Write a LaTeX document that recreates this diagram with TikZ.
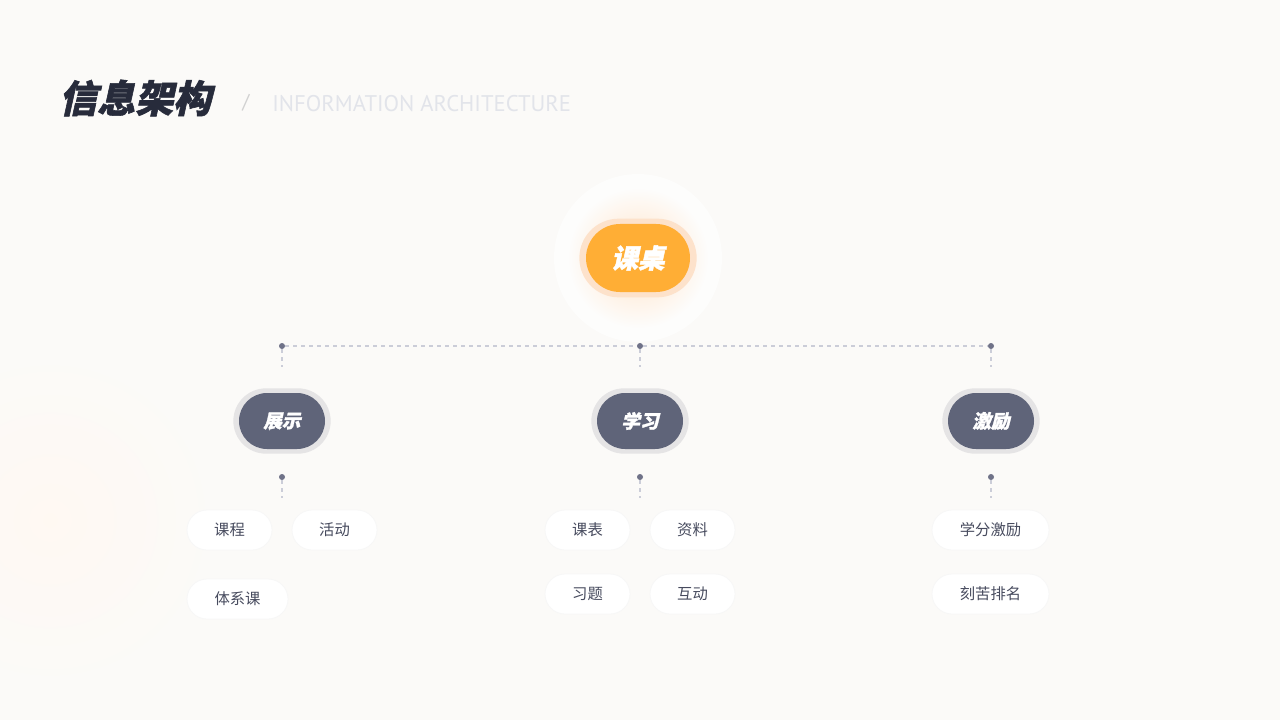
\documentclass[tikz,border=0pt]{standalone}
\usepackage{fontspec}
\setmainfont{Noto Sans CJK SC}
\newfontfamily\cjk{Noto Sans CJK SC}
\newfontfamily\cjkbi{Noto Sans CJK SC}[FakeSlant=0.22,BoldFeatures={FakeSlant=0.22,FakeBold=1.5}]
\newfontfamily\enfont{PT Sans}
\definecolor{bg}{HTML}{FBFAF8}
\definecolor{orangeA}{HTML}{FFAE35}
\definecolor{peach}{HTML}{FDE2CB}
\definecolor{slate}{HTML}{5F6479}
\definecolor{ringgray}{HTML}{E5E4E5}
\definecolor{dotc}{HTML}{6F7288}
\definecolor{dashc}{HTML}{CBCDD8}
\definecolor{leaftext}{HTML}{474B5E}
\definecolor{titlec}{HTML}{272B3B}
\definecolor{enc}{HTML}{E2E4EA}
\tikzset{
  dotn/.style={circle,fill=dotc,inner sep=0pt,minimum size=4.5pt},
  conn/.style={draw=dashc,line width=0.8pt,dash pattern=on 3pt off 3pt},
  toppill/.style={rectangle,rounded corners=25.5pt,minimum width=78pt,minimum height=51pt,fill=orangeA,text=white,font=\cjkbi\bfseries\fontsize{20}{22}\selectfont,inner sep=0pt},
  topring/.style={rectangle,rounded corners=29.5pt,minimum width=88pt,minimum height=59pt,fill=peach,inner sep=0pt},
  midpill/.style={rectangle,rounded corners=21pt,minimum width=64.5pt,minimum height=42pt,fill=slate,text=white,font=\cjkbi\bfseries\fontsize{14}{16}\selectfont,inner sep=0pt},
  midring/.style={rectangle,rounded corners=24.5pt,minimum width=73pt,minimum height=49pt,fill=ringgray,inner sep=0pt},
  leaf/.style={rectangle,rounded corners=15pt,minimum width=63.75pt,minimum height=30pt,fill=white,draw=black!3,line width=0.6pt,text=leaftext,font=\cjk\fontsize{11.5}{13}\selectfont,inner sep=0pt},
}
\begin{document}
\begin{tikzpicture}[x=0.75pt,y=-0.75pt]
\useasboundingbox (0,0) rectangle (1280,720);
% background
\fill[bg] (0,0) rectangle (1280,720);
\shade[inner color=orange!5,outer color=bg] (50,520) circle (170);
% title
\node[anchor=west,text=titlec,font=\cjkbi\bfseries\fontsize{28.5}{31}\selectfont,inner sep=0pt] (ttl) at (59,98) {信息架构};
\node[text=black!18,font=\enfont\fontsize{15}{17}\selectfont,inner sep=0pt] (slash) at (246,103) {/};
\node[anchor=west,text=enc,font=\enfont\fontsize{17}{20}\selectfont,inner sep=0pt] (en) at (272,104) {INFORMATION ARCHITECTURE};
% center
\fill[white!55!bg] (638,258) circle (84);
\shade[inner color=orange!22,outer color=white!55!bg] (638,258) circle (70);
\node[topring] (cring) at (638,258) {};
\node[toppill] (root) at (638,258) {课桌};
% dots
\node[dotn] (d1) at (282,346) {};
\node[dotn] (d2) at (640,346) {};
\node[dotn] (d3) at (991,346) {};
\draw[conn] (d1) -- (d2);
\draw[conn] (d2) -- (d3);
\coordinate (v1) at (282,367);
\coordinate (v2) at (640,367);
\coordinate (v3) at (991,367);
\draw[conn] (d1) -- (v1);
\draw[conn] (d2) -- (v2);
\draw[conn] (d3) -- (v3);
% mid nodes
\node[midring] (r1) at (282,421) {};
\node[midpill] (m1) at (282,421) {展示};
\node[midring] (r2) at (640,421) {};
\node[midpill] (m2) at (640,421) {学习};
\node[midring] (r3) at (991,421) {};
\node[midpill] (m3) at (991,421) {激励};
\node[dotn] (e1) at (282,477) {};
\node[dotn] (e2) at (640,477) {};
\node[dotn] (e3) at (991,477) {};
\coordinate (w1) at (282,498);
\coordinate (w2) at (640,498);
\coordinate (w3) at (991,498);
\draw[conn] (e1) -- (w1);
\draw[conn] (e2) -- (w2);
\draw[conn] (e3) -- (w3);
% leaves
\node[leaf] (l1) at (229.5,530) {课程};
\node[leaf] (l2) at (334.5,530) {活动};
\node[leaf,minimum width=75.75pt] (l3) at (237.5,599) {体系课};
\node[leaf] (l4) at (587.5,530) {课表};
\node[leaf] (l5) at (692.5,530) {资料};
\node[leaf] (l6) at (587.5,594) {习题};
\node[leaf] (l7) at (692.5,594) {互动};
\node[leaf,minimum width=87.75pt] (l8) at (990.5,530) {学分激励};
\node[leaf,minimum width=87.75pt] (l9) at (990.5,594) {刻苦排名};
\end{tikzpicture}
\end{document}
